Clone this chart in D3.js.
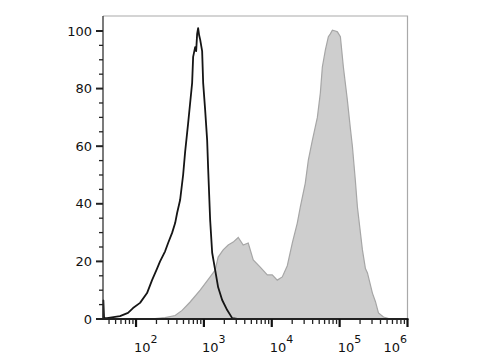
<!DOCTYPE html>
<html><head><meta charset="utf-8">
<script src="https://cdn.jsdelivr.net/npm/d3@7"></script>
<style>body{margin:0;background:#fff}svg{display:block}</style>
</head><body>
<svg id="c" width="480" height="360"></svg>
<script>
// Unstained / control histogram (black outline): [fluorescence, % of max]
const controlX = [33,33,33.8,37.3,58,76.2,90.3,114.6,145.3,172.2,204,226,268,297,340,377,403,446,494,529,566,586,627,671,694,743,769,795,822,851,881,942,975,1043,1117,1156,1236,1324,1466,1622,1858,2203,2612,3097];
const controlY = [0,6.5,0.3,0.3,1.0,2.1,3.8,5.6,9.0,13.5,17.5,20,23.5,26.4,29.9,33.3,36.8,41.3,50,58,64.6,68,75,82,91,94.4,93,99,101,98.5,97,93,82,72.6,62,52,34.4,23,17,11,6.6,3.1,0.3,0];
// Stained sample histogram (gray filled)
const stainedX = [161,268,377,477,627,881,1236,1466,1622,1923,2280,2703,3205,3796,4500,5334,6761,8590,10160,12050,14290,16940,20090,23770,26360,31190,34590,39620,46970,52000,55630,61660,68230,72950,78170,86500,92680,102560,113500,130000,144200,154200,170600,182800,202300,216700,239900,257000,304100,337300,373300,442600,561000];
const stainedY = [0,0.5,1.2,3,5.9,10,14.6,17,21.5,24,25.7,26.7,28.3,25.7,26.4,20.5,18,15.3,15.3,13.5,14.6,18.5,26.4,33.3,38.9,47.2,55.2,62,70,78.5,87.5,93.4,98,99,100.3,100,99.7,98,87.5,76,66,60,48,38.9,30,24,17.5,16,9,6,2.1,0.7,0];
const yTicks = [0,20,40,60,80,100];
const xTicks = [1e2,1e3,1e4,1e5,1e6];
const xTickExp = ["2","3","4","5","6"];

const svg = d3.select("#c");
const x = d3.scaleLog().domain([32.6, 1e6]).range([103, 407.5]);
const y = d3.scaleLinear().domain([0, 105.2]).range([319, 16]);

const stained = stainedX.map((v,i)=>[v, stainedY[i]]);
const control = controlX.map((v,i)=>[v, controlY[i]]);

// frame (top/right gray)
svg.append("path").attr("d",`M103,${y(105.2)}H${x(1e6)}V${y(0)}`)
  .attr("fill","none").attr("stroke","#a9a9a9").attr("stroke-width",1.2);

svg.append("path").datum(stained)
  .attr("d", d3.area().x(d=>x(d[0])).y0(y(0)).y1(d=>y(d[1])))
  .attr("fill","#cecece").attr("stroke","#a6a6a6").attr("stroke-width",1.2);

svg.append("path").datum(control)
  .attr("d", d3.line().x(d=>x(d[0])).y(d=>y(d[1])))
  .attr("fill","none").attr("stroke","#151515").attr("stroke-width",1.8).attr("stroke-linejoin","round");

// y axis
const yMinor = d3.range(0,105,5);
const gy = svg.append("g");
gy.append("line").attr("x1",103).attr("x2",103).attr("y1",y(105.2)).attr("y2",y(0)+1).attr("stroke","#333").attr("stroke-width",1.3);
gy.selectAll("line.mn").data(yMinor).join("line").attr("class","mn")
  .attr("x1",d=> d%20===0 ? 96 : 99).attr("x2",103).attr("y1",d=>y(d)).attr("y2",d=>y(d))
  .attr("stroke","#222").attr("stroke-width",d=>d%20===0?2:1.3);
gy.selectAll("text").data(yTicks).join("text")
  .attr("x",92).attr("y",d=>y(d)).attr("dy","0.36em").attr("text-anchor","end")
  .attr("font-family","DejaVu Sans").attr("font-size",13).attr("fill","#111").text(d=>d);

// x axis
const gx = svg.append("g");
gx.append("line").attr("x1",102).attr("x2",x(1e6)+1).attr("y1",y(0)).attr("y2",y(0)).attr("stroke","#222").attr("stroke-width",1.8);
const minor = [];
for (let k=1;k<=5;k++) for (let m=2;m<=9;m++){ const v=m*Math.pow(10,k); if (v>=35 && v<1e6) minor.push(v); }
gx.selectAll("line.mn").data(minor).join("line").attr("class","mn")
  .attr("x1",d=>x(d)).attr("x2",d=>x(d)).attr("y1",y(0)).attr("y2",y(0)+5)
  .attr("stroke","#222").attr("stroke-width",1.3);
gx.selectAll("line.mj").data(xTicks).join("line").attr("class","mj")
  .attr("x1",d=>x(d)).attr("x2",d=>x(d)).attr("y1",y(0)).attr("y2",y(0)+8)
  .attr("stroke","#111").attr("stroke-width",2.2);
const lab = gx.selectAll("text").data(xTicks).join("text")
  .attr("x",(d,i)=> i===xTicks.length-1 ? x(d)-0.5 : x(d)-2)
  .attr("y",352).attr("text-anchor",(d,i)=> i===xTicks.length-1 ? "end":"start")
  .attr("font-family","DejaVu Sans").attr("font-size",13).attr("fill","#111");
lab.append("tspan").text("10");
lab.append("tspan").attr("dy",-9).attr("font-size",11).text((d,i)=>xTickExp[i]);
</script>
</body></html>
